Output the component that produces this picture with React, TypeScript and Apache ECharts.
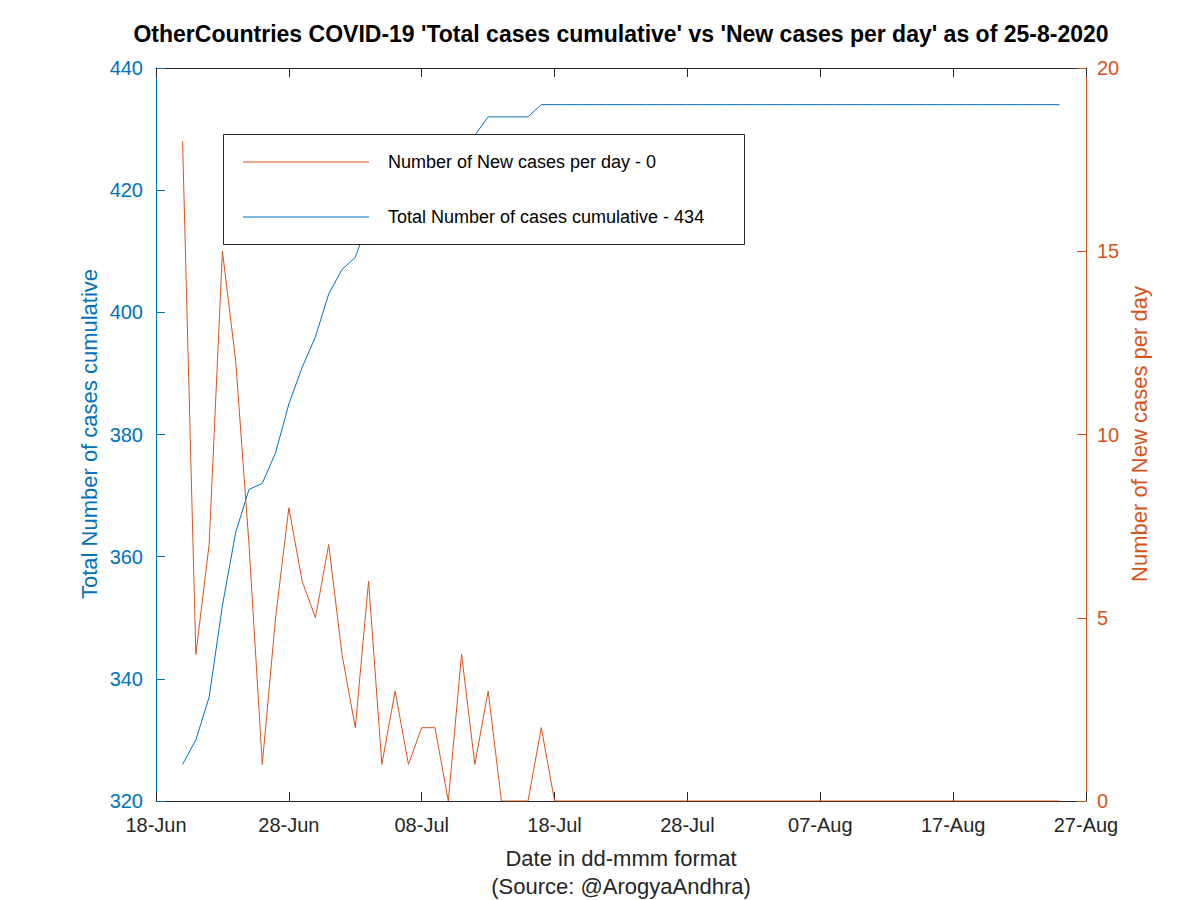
import React, { useEffect, useRef } from "react";
import * as echarts from "echarts";

const titleText =
  "OtherCountries COVID-19 'Total cases cumulative' vs 'New cases per day' as of 25-8-2020";
const xTickLabels = ["18-Jun", "28-Jun", "08-Jul", "18-Jul", "28-Jul", "07-Aug", "17-Aug", "27-Aug"];
// first data point is 20-Jun, i.e. 2 days after 18-Jun (x axis origin)
const firstDayOffset = 2;

const totalCases = [
  326, 330, 337, 352, 364, 371, 372, 377, 385, 391, 396, 403, 407, 409, 415, 416, 419, 420, 422,
  424, 424, 428, 429, 432, 432, 432, 432, 434, 434, 434, 434, 434, 434, 434, 434, 434, 434, 434,
  434, 434, 434, 434, 434, 434, 434, 434, 434, 434, 434, 434, 434, 434, 434, 434, 434, 434, 434,
  434, 434, 434, 434, 434, 434, 434, 434, 434, 434,
];
const newCases = [
  18, 4, 7, 15, 12, 7, 1, 5, 8, 6, 5, 7, 4, 2, 6, 1, 3, 1, 2, 2, 0, 4, 1, 3, 0, 0, 0, 2, 0, 0, 0,
  0, 0, 0, 0, 0, 0, 0, 0, 0, 0, 0, 0, 0, 0, 0, 0, 0, 0, 0, 0, 0, 0, 0, 0, 0, 0, 0, 0, 0, 0, 0, 0,
  0, 0, 0, 0,
];

const leftTicks = [320, 440, 20];
const rightTicks = [0, 20, 5];

const BLUE = "#0072BD";
const ORANGE = "#D95319";
const DARK = "#262626";
const FONT = "Liberation Sans";

const nameTotal = "Total Number of cases cumulative - " + totalCases[totalCases.length - 1];
const nameNew = "Number of New cases per day - " + newCases[newCases.length - 1];

export default function App() {
  const ref = useRef<HTMLDivElement>(null);
  useEffect(() => {
    document.body.style.margin = "0";
    const chart = echarts.init(ref.current!, null, { renderer: "svg" });
    const totalData = totalCases.map((v, i) => [i + firstDayOffset, v]);
    const newData = newCases.map((v, i) => [i + firstDayOffset, v]);
    const xFmt = (v: number) => xTickLabels[Math.round(v / 10)] ?? "";
    chart.setOption({
      animation: false,
      backgroundColor: "#ffffff",
      grid: { left: 156, right: 114, top: 68, bottom: 99, containLabel: false },
      xAxis: [
        {
          type: "value",
          min: 0,
          max: 70,
          interval: 10,
          position: "bottom",
          axisLine: { show: true, onZero: false, lineStyle: { color: DARK, width: 1 } },
          axisTick: { show: true, inside: true, length: 9, lineStyle: { color: DARK } },
          axisLabel: { color: DARK, fontSize: 20, fontFamily: FONT, margin: 14, formatter: xFmt },
          splitLine: { show: false },
        },
        {
          type: "value",
          min: 0,
          max: 70,
          interval: 10,
          position: "top",
          axisLine: { show: true, onZero: false, lineStyle: { color: DARK, width: 1 } },
          axisTick: { show: true, inside: true, length: 9, lineStyle: { color: DARK } },
          axisLabel: { show: false },
          splitLine: { show: false },
        },
      ],
      yAxis: [
        {
          type: "value",
          min: leftTicks[0],
          max: leftTicks[1],
          interval: leftTicks[2],
          position: "left",
          axisLine: { show: true, onZero: false, lineStyle: { color: BLUE, width: 1 } },
          axisTick: { show: true, inside: true, length: 9, lineStyle: { color: BLUE } },
          axisLabel: { color: BLUE, fontSize: 20, fontFamily: FONT, margin: 13 },
          splitLine: { show: false },
        },
        {
          type: "value",
          min: rightTicks[0],
          max: rightTicks[1],
          interval: rightTicks[2],
          position: "right",
          axisLine: { show: true, onZero: false, lineStyle: { color: ORANGE, width: 1 } },
          axisTick: { show: true, inside: true, length: 9, lineStyle: { color: ORANGE } },
          axisLabel: { color: ORANGE, fontSize: 20, fontFamily: FONT, margin: 11 },
          splitLine: { show: false },
        },
      ],
      legend: {
        orient: "vertical",
        left: 243,
        top: 152,
        padding: 0,
        itemGap: 35,
        itemWidth: 126,
        itemHeight: 1,
        icon: "rect",
        z: 10,
        data: [nameNew, nameTotal],
        textStyle: {
          color: "#000000",
          fontSize: 18,
          lineHeight: 20,
          fontFamily: FONT,
          padding: [0, 0, 0, 14],
        },
      },
      series: [
        {
          name: nameTotal,
          type: "line",
          xAxisIndex: 0,
          yAxisIndex: 0,
          data: totalData,
          symbol: "none",
          showSymbol: false,
          lineStyle: { color: BLUE, width: 1 },
          itemStyle: { color: BLUE },
          z: 2,
        },
        {
          name: nameNew,
          type: "line",
          xAxisIndex: 0,
          yAxisIndex: 1,
          data: newData,
          symbol: "none",
          showSymbol: false,
          lineStyle: { color: ORANGE, width: 1 },
          itemStyle: { color: ORANGE },
          z: 3,
        },
      ],
      graphic: [
        {
          type: "rect",
          z: 8,
          shape: { x: 223.5, y: 134.5, width: 521, height: 110 },
          style: { fill: "#ffffff", stroke: DARK, lineWidth: 1 },
        },
        {
          type: "text",
          x: 621,
          y: 34,
          style: {
            text: titleText,
            fill: "#000000",
            font: `bold 23px "${FONT}"`,
            textAlign: "center",
            textVerticalAlign: "middle",
          },
        },
        {
          type: "text",
          x: 621,
          y: 858,
          style: {
            text: "Date in dd-mmm format",
            fill: DARK,
            font: `22px "${FONT}"`,
            textAlign: "center",
            textVerticalAlign: "middle",
          },
        },
        {
          type: "text",
          x: 621,
          y: 886,
          style: {
            text: "(Source: @ArogyaAndhra)",
            fill: DARK,
            font: `22px "${FONT}"`,
            textAlign: "center",
            textVerticalAlign: "middle",
          },
        },
        {
          type: "text",
          x: 89,
          y: 434,
          rotation: Math.PI / 2,
          style: {
            text: "Total Number of cases cumulative",
            fill: BLUE,
            font: `22px "${FONT}"`,
            textAlign: "center",
            textVerticalAlign: "middle",
          },
        },
        {
          type: "text",
          x: 1139,
          y: 434,
          rotation: Math.PI / 2,
          style: {
            text: "Number of New cases per day",
            fill: ORANGE,
            font: `22px "${FONT}"`,
            textAlign: "center",
            textVerticalAlign: "middle",
          },
        },
      ],
    });
    return () => chart.dispose();
  }, []);
  return <div ref={ref} style={{ width: 1200, height: 900 }} />;
}
